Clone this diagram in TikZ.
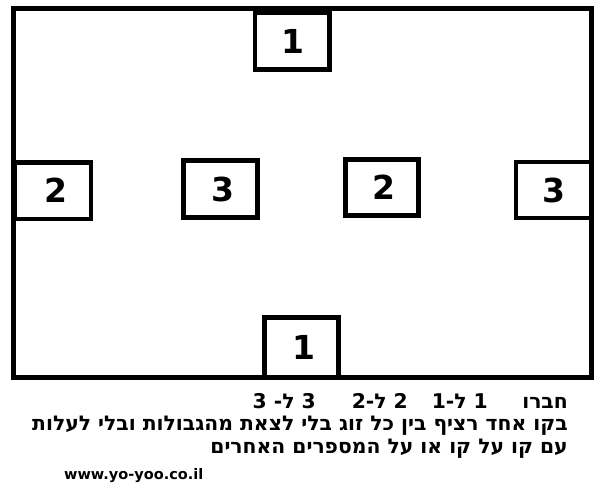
\documentclass[tikz,border=0pt]{standalone}
\usepackage{fontspec}
\setmainfont{DejaVu Sans}
\newfontfamily\hebfont[Script=Hebrew]{DejaVu Sans Bold}
\TeXXeTstate=1
\begin{document}
\begin{tikzpicture}[x=1pt,y=-1pt,
  frame/.style={line width=4.6pt},
  numbox/.style={draw,line width=4.6pt,rectangle,inner sep=0pt,
    font=\fontsize{33}{33}\selectfont\bfseries},
  hebtext/.style={anchor=base east,inner sep=0pt,
    font=\hebfont\fontsize{20.3}{20.3}\selectfont},
  urltext/.style={anchor=base west,inner sep=0pt,
    font=\fontsize{14.5}{14.5}\selectfont\bfseries}]
\useasboundingbox (0,0) rectangle (602,494);
\fill[white] (0,0) rectangle (602,494);
\draw[frame] (13.3,8.3) rectangle (591.7,377.7);
\node[numbox,minimum width=74.7pt,minimum height=57pt] (topone) at (292.35,41.2) {\kern1pt 1};
\node[numbox,minimum width=76pt,minimum height=56.7pt] (lefttwo) at (53,190.6) {\kern6pt 2};
\node[numbox,minimum width=74.4pt,minimum height=56.6pt] (leftthree) at (220.5,189) {\kern5pt 3};
\node[numbox,minimum width=73pt,minimum height=56pt] (midtwo) at (382.2,187.7) {\kern4pt 2};
\node[numbox,minimum width=75.7pt,minimum height=56pt] (rightthree) at (553.85,190) {\kern1pt 3};
\node[numbox,minimum width=74pt,minimum height=60.4pt] (botone) at (301.3,347.5) {\kern6pt 1};
\node[hebtext] (hA) at (568,408) {\beginR חברו\endR};
\node[hebtext] (hB) at (488,408) {\beginR 1 ל-1\endR};
\node[hebtext] (hC) at (408,408) {\beginR 2 ל-2\endR};
\node[hebtext] (hD) at (316,408) {\beginR 3 ל- 3\endR};
\node[hebtext] (hline2) at (568,430.7) {\beginR בקו אחד רציף בין כל זוג בלי לצאת מהגבולות ובלי לעלות\endR};
\node[hebtext] (hline3) at (568,453.3) {\beginR עם קו על קו או על המספרים האחרים\endR};
\node[urltext] (url) at (64,479) {www.yo-yoo.co.il};
\end{tikzpicture}
\end{document}
